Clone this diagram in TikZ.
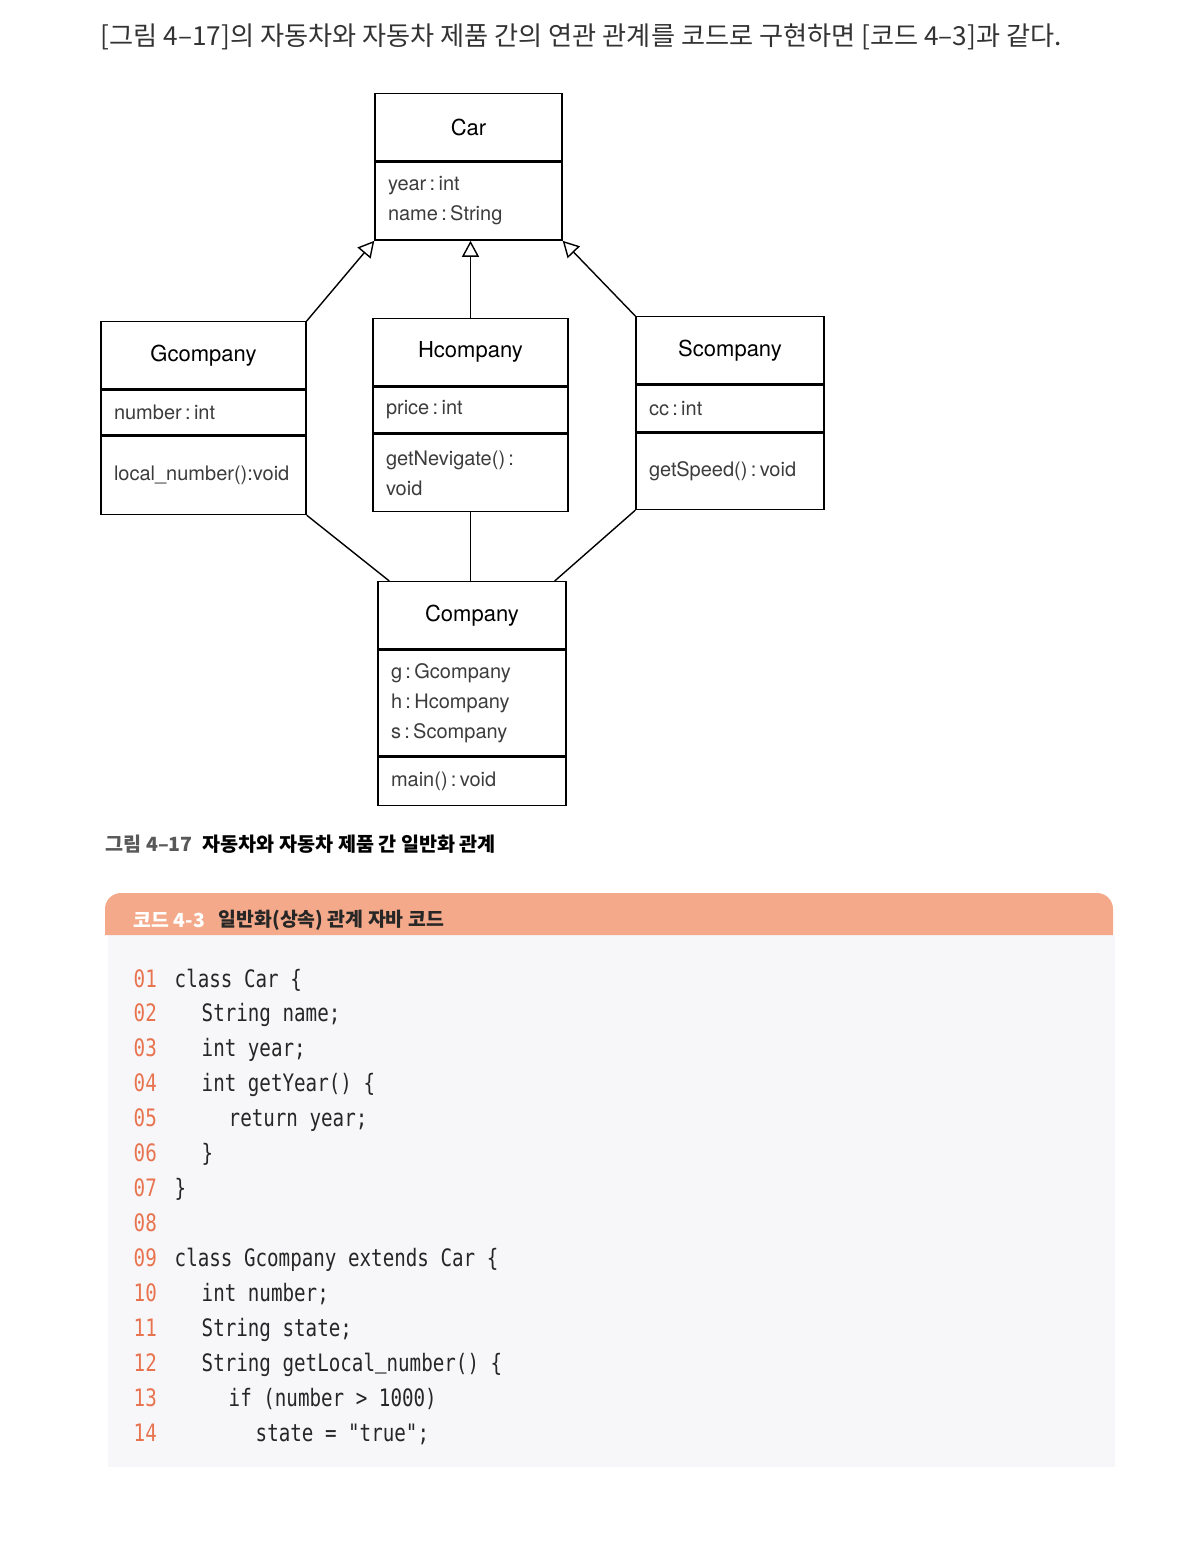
\documentclass[tikz,border=0pt]{standalone}
\usepackage{fontspec}
\setmainfont{TeX Gyre Heros}
\newfontfamily\cjk{Noto Sans CJK KR}
\newfontfamily\codefont[FakeStretch=0.8]{DejaVu Sans Mono}
\newfontfamily\uscorefont[FakeStretch=0.8]{Liberation Mono}
\usetikzlibrary{positioning}
\usetikzlibrary{arrows.meta}
\definecolor{salmon}{HTML}{F4AA8A}
\definecolor{lnumcol}{HTML}{E8734F}
\definecolor{codebg}{HTML}{F7F7F9}
\definecolor{attrgray}{HTML}{3C3C3C}
\begin{document}
\begin{tikzpicture}[x=0.5pt,y=-0.5pt,
        line width=0.7pt,
        title/.style = {draw,align=center,inner xsep=6.5pt,inner ysep=0pt,
            minimum height=33.5pt,font=\fontsize{11}{13}\selectfont},
        attr/.style = {draw,align=left,inner xsep=6.5pt,inner ysep=0pt,
            text=attrgray,font=\fontsize{10}{15}\selectfont},
        inh/.style = {-{Triangle[open,length=8pt,width=8.5pt]}},
        lnum/.style = {anchor=base west,inner sep=0pt,text=lnumcol,
            font=\codefont\fontsize{12}{14}\selectfont},
        code/.style = {anchor=base west,inner sep=0pt,text=black!85,
            font=\codefont\fontsize{12}{14}\selectfont}]
    \useasboundingbox (0,0) rectangle (1200,1543);
    \node[anchor=base west,inner sep=0pt,text=black!80,
        font=\cjk\fontsize{13.1}{15}\selectfont] (intro) at (100,45)
        {[그림 4–17]의 자동차와 자동차 제품 간의 연관 관계를 코드로 구현하면 [코드 4–3]과 같다.};
    \node[title,text width=80.5pt,anchor=north] (car) at (468.5,93) {Car};
    \node[attr,text width=80.5pt,minimum height=39pt,below=0pt of car] (car-a)
        {year\,:\,int\\name\,:\,String};
    \node[title,text width=89.5pt,anchor=north] (gco) at (203.5,321) {Gcompany};
    \node[attr,text width=89.5pt,minimum height=22.5pt,below=0pt of gco] (gco-a) {number\,:\,int};
    \node[attr,text width=89.5pt,minimum height=39pt,below=0pt of gco-a] (gco-o) {local\_number():void};
    \node[title,text width=84.5pt,anchor=north] (hco) at (470.5,318) {Hcompany};
    \node[attr,text width=84.5pt,minimum height=23pt,below=0pt of hco] (hco-a) {price\,:\,int};
    \node[attr,text width=84.5pt,minimum height=38.5pt,below=0pt of hco-a] (hco-o) {getNevigate()\,:\\void};
    \node[title,text width=81pt,anchor=north] (sco) at (730,316) {Scompany};
    \node[attr,text width=81pt,minimum height=23.5pt,below=0pt of sco] (sco-a) {cc\,:\,int};
    \node[attr,text width=81pt,minimum height=38pt,below=0pt of sco-a] (sco-o) {getSpeed()\,:\,void};
    \node[title,text width=81pt,anchor=north] (co) at (472,581) {Company};
    \node[attr,text width=81pt,minimum height=53pt,below=0pt of co] (co-a)
        {g\,:\,Gcompany\\h\,:\,Hcompany\\s\,:\,Scompany};
    \node[attr,text width=81pt,minimum height=24pt,below=0pt of co-a] (co-o) {main()\,:\,void};
    \draw[inh] (gco.north east) -- (car-a.south west);
    \draw[inh] (hco.north) -- (hco.north |- car-a.south);
    \draw[inh] (sco.north west) -- (car-a.south east);
    \draw (gco-o.south east) -- ([xshift=6pt]co.north west);
    \draw (hco-o.south) -- (hco-o.south |- co.north);
    \draw (sco-o.south west) -- ([xshift=-6pt]co.north east);
    \node[anchor=base west,inner sep=0pt,font=\cjk\bfseries\fontsize{9.8}{12}\selectfont] (cap) at (105,851)
        {\textcolor{black!65}{그림 4–17}\hspace{5pt}자동차와 자동차 제품 간 일반화 관계};
    \fill[codebg] (108,935) rectangle (1115,1467);
    \fill[salmon] (105,935) [rounded corners=8pt]-- (105,893) -- (1113,893) [sharp corners]-- (1113,935) -- cycle;
    \node[anchor=west,inner sep=0pt,text=white,font=\cjk\bfseries\fontsize{9.7}{12}\selectfont] (hdnum) at (133,920) {코드 4-3};
    \node[anchor=west,inner sep=0pt,text=black!85,font=\cjk\bfseries\fontsize{9.7}{12}\selectfont] (hdtitle) at (218,920)
        {일반화(상속) 관계 자바 코드};
    \foreach \n/\lv/\txt [count=\i] in {01/0/{class Car \{},02/1/{String name;},03/1/{int year;},
            04/1/{int getYear() \{},05/2/{return year;},06/1/{\}},07/0/{\}},08/0/{},
            09/0/{class Gcompany extends Car \{},10/1/{int number;},11/1/{String state;},
            12/1/{String getLocal{\uscorefont\_}number() \{},13/2/{if (number > 1000)},14/3/{state = "true";}}
    {
        \node[lnum] (ln\i) at (133,{987+(\i-1)*34.95}) {\n};
        \node[code] (code\i) at ({174+27*\lv},{987+(\i-1)*34.95}) {\txt};
    }
\end{tikzpicture}
\end{document}
